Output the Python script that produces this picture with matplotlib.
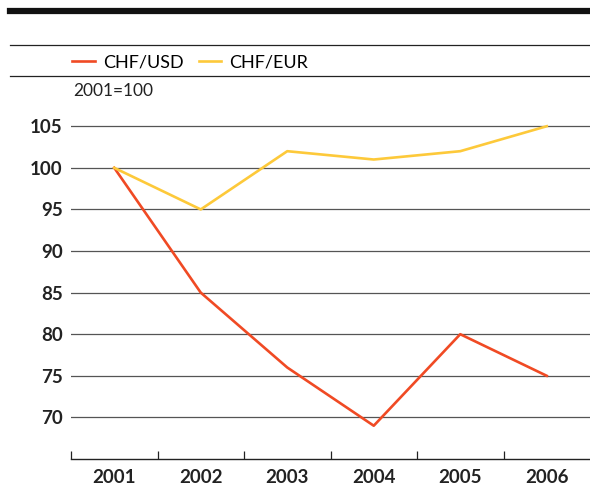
import matplotlib
matplotlib.use("Agg")
import matplotlib.pyplot as plt
from matplotlib.lines import Line2D

# Data (index, 2001=100)
years = [2001, 2002, 2003, 2004, 2005, 2006]
chf_usd = [100, 85, 76, 69, 80, 75]
chf_eur = [100, 95, 102, 101, 102, 105]
y_ticks = [70, 75, 80, 85, 90, 95, 100, 105]

RED = "#f04a24"
YELLOW = "#fdc93a"
W, H = 590, 486

plt.rcParams["font.family"] = ["Lato", "DejaVu Sans"]

fig = plt.figure(figsize=(W / 100, H / 100), dpi=100)

# axes placed in pixel terms: x 71..590, y 110..459
ax = fig.add_axes([71 / W, (H - 459) / H, (W - 71) / W, (459 - 109.6) / H])

ax.plot(years, chf_usd, color=RED, lw=1.9, label="CHF/USD", zorder=3)
ax.plot(years, chf_eur, color=YELLOW, lw=1.9, label="CHF/EUR", zorder=3)

ax.set_xlim(years[0] - 0.5, years[-1] + 0.5)
ax.set_ylim(65, 107)

# horizontal gridlines
for v in y_ticks:
    ax.axhline(v, color="#555555", lw=0.9, zorder=1)

ax.set_yticks(y_ticks)
ax.set_yticklabels([str(v) for v in y_ticks], fontsize=13.5, fontweight="bold", color="#222222")
ax.tick_params(axis="y", length=0, pad=6)

ax.set_xticks(years)
ax.set_xticklabels([str(y) for y in years], fontsize=13.5, fontweight="bold", color="#222222")
ax.set_xticks([y - 0.5 for y in years], minor=True)
ax.tick_params(axis="x", which="major", length=0, pad=7)
ax.tick_params(axis="x", which="minor", direction="in", length=5.5, width=0.9, color="#222222")

for s in ["top", "right", "left"]:
    ax.spines[s].set_visible(False)
ax.spines["bottom"].set_color("#222222")
ax.spines["bottom"].set_linewidth(1.0)

# header rules
fig.add_artist(Line2D([10 / W, 1], [(H - 11) / H] * 2, color="#111111", lw=4.5))
fig.add_artist(Line2D([10 / W, 1], [(H - 45) / H] * 2, color="#222222", lw=0.9))
fig.add_artist(Line2D([10 / W, 1], [(H - 76) / H] * 2, color="#222222", lw=0.9))

# legend
fig.legend(loc="center left", bbox_to_anchor=(72 / W, (H - 62) / H), ncol=2,
           frameon=False, fontsize=13, borderpad=0, borderaxespad=0,
           handlelength=1.25, handletextpad=0.45, columnspacing=0.85,
           prop={"family": ["Liberation Sans Narrow", "Lato", "DejaVu Sans"], "size": 13})

fig.text(73 / W, (H - 91) / H, "2001=100", fontsize=12.5, color="#222222",
         va="center", ha="left", family=["Liberation Sans Narrow", "Lato", "DejaVu Sans"])

fig.savefig("out.png", dpi=100)
